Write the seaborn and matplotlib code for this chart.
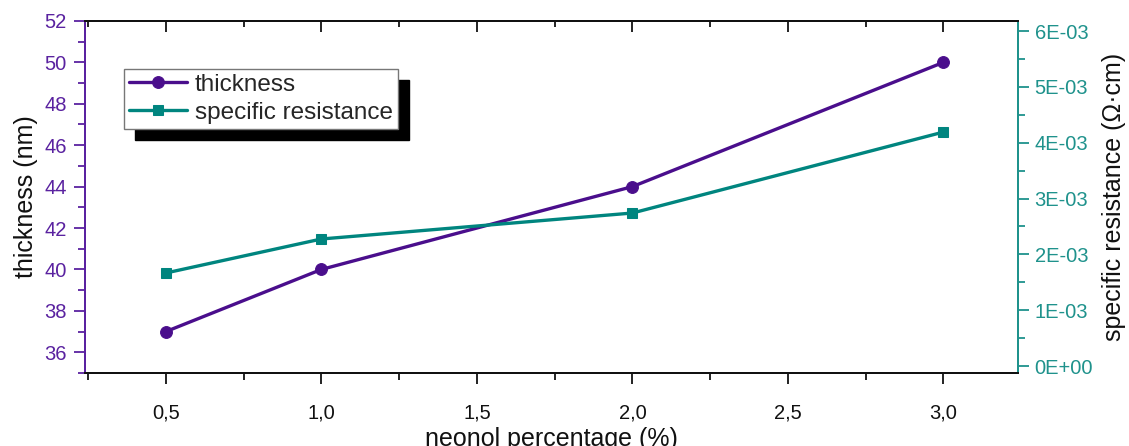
import seaborn as sns
import pandas as pd
import matplotlib
matplotlib.use('Agg')
from matplotlib import pyplot as plt
from matplotlib.ticker import MultipleLocator, FuncFormatter

# data
neonol = [0.5, 1.0, 2.0, 3.0]
thickness = [37, 40, 44, 50]
resistance = [1.666e-3, 2.275e-3, 2.74e-3, 4.19e-3]

df = pd.DataFrame({'neonol': neonol, 'thickness': thickness, 'resistance': resistance})

sns.set_style('white')
plt.rcParams['font.family'] = ['Liberation Sans', 'DejaVu Sans']

purple = '#4a0e8c'
purple_txt = '#5a22a0'
teal = '#00857f'
teal_txt = '#1f928c'

fig = plt.figure(figsize=(11.29, 4.46), dpi=100)
ax = fig.add_axes([0.0753, 0.1637, 0.8264, 0.7893])
ax2 = ax.twinx()

sns.lineplot(data=df, x='neonol', y='thickness', ax=ax, color=purple, lw=2.4,
             marker='o', markersize=8.5, markeredgecolor=purple, label='thickness', legend=False)
sns.lineplot(data=df, x='neonol', y='resistance', ax=ax2, color=teal, lw=2.4,
             marker='s', markersize=7.5, markeredgecolor=teal, label='specific resistance', legend=False)

ax.set_xlim(0.24, 3.24)
ax.set_ylim(35, 52)
ax2.set_ylim(-0.000125, 0.00618)

ax.xaxis.set_major_locator(MultipleLocator(0.5))
ax.xaxis.set_minor_locator(MultipleLocator(0.25))
ax.xaxis.set_major_formatter(FuncFormatter(lambda v, p: f'{v:.1f}'.replace('.', ',')))
ax.yaxis.set_major_locator(MultipleLocator(2))
ax.yaxis.set_minor_locator(MultipleLocator(1))
ax2.yaxis.set_major_locator(MultipleLocator(0.001))
ax2.yaxis.set_minor_locator(MultipleLocator(0.0005))
ax2.yaxis.set_major_formatter(FuncFormatter(lambda v, p: f'{v:.0E}'))

# spines
for a in (ax, ax2):
    for s in a.spines.values():
        s.set_linewidth(1.4)
        s.set_color('#111111')
ax.spines['left'].set_color(purple_txt)
ax2.spines['left'].set_color(purple_txt)
ax2.spines['right'].set_color(teal_txt)
ax.spines['right'].set_color(teal_txt)

ax.tick_params(axis='x', which='both', bottom=True, top=False, direction='out', colors='#111111',
               labelsize=14.5, pad=14)
ax.tick_params(axis='x', which='major', length=8, width=1.3)
ax.tick_params(axis='x', which='minor', length=5, width=1.3)
# top ticks point inward
top = ax.secondary_xaxis('top')
top.xaxis.set_major_locator(MultipleLocator(0.5))
top.xaxis.set_minor_locator(MultipleLocator(0.25))
top.tick_params(which='both', direction='in', labeltop=False, width=1.3, colors='#111111')
top.tick_params(which='major', length=8)
top.tick_params(which='minor', length=4)
top.spines['top'].set_linewidth(1.4)

ax.tick_params(axis='y', which='both', left=True, direction='out', colors=purple_txt, labelsize=14.5, pad=5)
ax.tick_params(axis='y', which='major', length=8, width=1.3)
ax.tick_params(axis='y', which='minor', length=5, width=1.3)
ax2.tick_params(axis='y', which='both', right=True, direction='out', colors=teal_txt, labelsize=14.5, pad=4)
ax2.tick_params(axis='y', which='major', length=8, width=1.3)
ax2.tick_params(axis='y', which='minor', length=5, width=1.3)

ax.set_xlabel('neonol percentage (%)', fontsize=18, color='#111111', labelpad=3)
ax.set_ylabel('thickness (nm)', fontsize=18, color='#111111', labelpad=5)
ax2.set_ylabel('specific resistance (\u03a9\u00b7cm)', fontsize=18, color='#111111', labelpad=6)

h1, l1 = ax.get_legend_handles_labels()
h2, l2 = ax2.get_legend_handles_labels()
leg = ax2.legend(h1 + h2, l1 + l2, loc='upper left', bbox_to_anchor=(0.042, 0.864),
                 borderaxespad=0, fancybox=False, fontsize=17.5, frameon=True,
                 edgecolor='#777777', framealpha=1, borderpad=0.2, labelspacing=0.25,
                 handlelength=2.4, handletextpad=0.3,
                 shadow={'ox': 8, 'oy': -8, 'color': 'black', 'alpha': 1})
leg.get_frame().set_linewidth(1.0)

fig.savefig('out.png', dpi=100)
